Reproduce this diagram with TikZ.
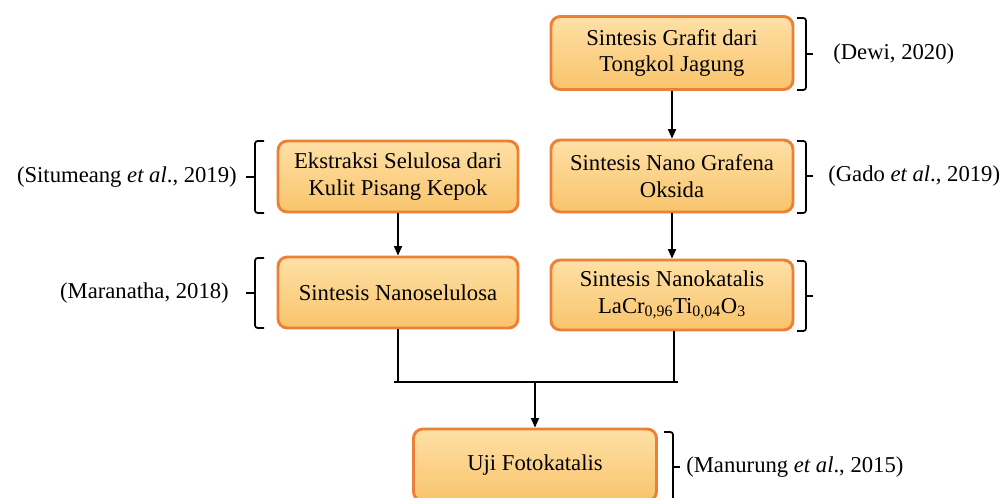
\documentclass[tikz,border=0pt]{standalone}
\usepackage{fontspec}
\setmainfont{Liberation Serif}
\usetikzlibrary{arrows.meta}
\definecolor{boxborder}{RGB}{237,128,55}
\definecolor{boxtop}{RGB}{254,224,166}
\definecolor{boxbot}{RGB}{249,196,108}
\tikzset{
  stepbox/.style={draw=boxborder, line width=2.2pt, rounded corners=7pt,
    top color=boxtop, bottom color=boxbot, align=center,
    font=\fontsize{17}{20}\selectfont, inner sep=0pt},
  cite/.style={font=\fontsize{17}{20}\selectfont, inner sep=0pt},
  conn/.style={line width=1.1pt, black},
  arr/.style={conn, -{Triangle[length=7pt,width=6pt]}},
  brk/.style={line width=1.3pt, black, rounded corners=2pt},
}
\begin{document}
\begin{tikzpicture}[x=0.75pt, y=-0.75pt]
\useasboundingbox (0,0) rectangle (1003,498);
\begin{scope}
\clip (0,0) rectangle (1003,498);
% boxes (sizes in pt = px * 0.75)
\node[stepbox, minimum width=181.5pt, minimum height=54.75pt] (b1) at (672,53) {Sintesis Grafit dari\\Tongkol Jagung};
\node[stepbox, minimum width=180pt, minimum height=53.25pt] (b2) at (398,176.5) {Ekstraksi Selulosa dari\\Kulit Pisang Kepok};
\node[stepbox, minimum width=181.5pt, minimum height=54pt] (b3) at (672,176) {Sintesis Nano Grafena\\Oksida};
\node[stepbox, minimum width=180pt, minimum height=53.25pt] (b4) at (398,292.5) {Sintesis Nanoselulosa};
\node[stepbox, minimum width=181.5pt, minimum height=52.5pt] (b5) at (672,295) {Sintesis Nanokatalis\\LaCr\textsubscript{0,96}Ti\textsubscript{0,04}O\textsubscript{3}};
\node[stepbox, minimum width=182.25pt, minimum height=54pt] (b6) at (535,465) {Uji Fotokatalis};

% connectors
\draw[arr] (b1.south) -- (b3.north);
\draw[arr] (b2.south) -- (b4.north);
\draw[arr] (b3.south) -- (b5.north);
\coordinate (jl) at (398,382);
\coordinate (jr) at (674,382);
\coordinate (jm) at (535,382);
\coordinate (hl) at (394,382);
\coordinate (hr) at (678,382);
\draw[conn] (b4.south) -- (jl);
\draw[conn] (b5.south -| jr) -- (jr);
\draw[conn] (hl) -- (hr);
\draw[arr] (jm) -- (b6.north);

% brackets
\draw[brk] (797,18) -- (806,18) -- (806,90) -- (797,90);
\draw[brk] (806,54) -- (813,54);
\node[cite, anchor=west] (c1) at (833,54) {(Dewi, 2020)};

\draw[brk] (264,141) -- (255,141) -- (255,213) -- (264,213);
\draw[brk] (255,177) -- (246,177);
\node[cite, anchor=east] (c2) at (237,177) {(Situmeang \textit{et al}., 2019)};

\draw[brk] (797,141) -- (806,141) -- (806,213) -- (797,213);
\draw[brk] (806,176) -- (813,176);
\node[cite, anchor=west] (c3) at (828,176) {(Gado \textit{et al}., 2019)};

\draw[brk] (264,258) -- (255,258) -- (255,328) -- (264,328);
\draw[brk] (255,293) -- (246,293);
\node[cite, anchor=east] (c4) at (229,293) {(Maranatha, 2018)};

\draw[brk] (797,261) -- (806,261) -- (806,331) -- (797,331);
\draw[brk] (806,296) -- (813,296);

\draw[brk] (664,432) -- (673,432) -- (673,510) -- (664,510);
\draw[brk] (673,467) -- (680,467);
\node[cite, anchor=west] (c6) at (686,467) {(Manurung \textit{et al}., 2015)};
\end{scope}
\end{tikzpicture}
\end{document}
